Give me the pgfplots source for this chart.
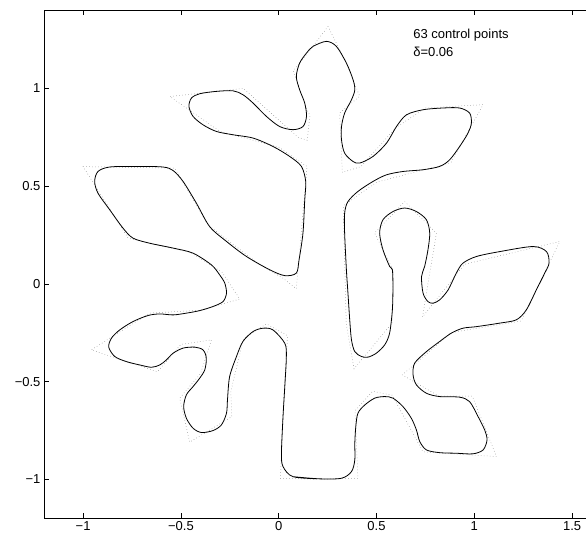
\documentclass[border=0pt]{standalone}
\usepackage{fontspec}
\setmainfont{Liberation Sans}
\usepackage{pgfplots}
\pgfplotsset{compat=1.18}

\begin{document}
\begin{tikzpicture}
\useasboundingbox (-44pt,-20.7pt) rectangle (542pt,518.3pt);
\begin{axis}[
  at={(0,0)},anchor=south west,
  scale only axis,width=542pt,height=508pt,
  xmin=-1.2,xmax=1.571,ymin=-1.2,ymax=1.4,
  axis x line*=box,axis y line*=left,
  tick align=inside,major tick length=5pt,
  xtick={-1,-0.5,0,0.5,1,1.5},xticklabels={−1,−0.5,0,0.5,1,1.5},
  ytick={-1,-0.5,0,0.5,1},yticklabels={−1,−0.5,0,0.5,1},
  tick label style={font=\fontsize{13}{15}\selectfont},
  axis line style={line width=0.6pt},tick style={line width=0.6pt,black},
  clip=false]

% control polygon
\addplot[black!55,line width=0.5pt,dash pattern=on 0.5pt off 2.5pt] coordinates {
(0.21,-1.0) (0.009,-0.995) (0.02,-0.70) (0.04,-0.35) (0.045,-0.265) (-0.063,-0.205)
(-0.18,-0.28) (-0.245,-0.55) (-0.24,-0.68) (-0.455,-0.81) (-0.506,-0.585) (-0.40,-0.46)
(-0.344,-0.287) (-0.50,-0.31) (-0.62,-0.45) (-0.958,-0.338) (-0.66,-0.15) (-0.40,-0.135)
(-0.199,-0.078) (-0.29,0.06) (-0.45,0.16) (-0.77,0.234) (-1.0,0.60) (-0.532,0.592)
(-0.36,0.30) (-0.10,0.10) (0.02,0.03) (0.09,-0.025) (0.115,0.26) (0.145,0.60)
(0.0,0.70) (-0.30,0.78) (-0.557,0.959) (-0.18,1.0) (0.10,0.75) (0.145,0.735)
(0.16,0.86) (0.14,0.90) (0.075,1.09) (0.17,1.21) (0.252,1.317) (0.35,1.12)
(0.414,0.96) (0.312,0.875) (0.325,0.57) (0.42,0.60) (0.60,0.80) (0.75,0.90)
(1.045,0.917) (0.88,0.62) (0.50,0.52) (0.33,0.40) (0.345,-0.2) (0.385,-0.435)
(0.58,-0.20) (0.585,0.07) (0.49,0.26) (0.644,0.421) (0.806,0.26) (0.735,-0.17)
(0.95,0.10) (1.437,0.217) (1.24,-0.19) (0.88,-0.25) (0.632,-0.466) (0.82,-0.575)
(0.99,-0.575) (1.113,-0.884) (0.738,-0.86) (0.58,-0.57) (0.48,-0.55) (0.39,-0.65)
(0.405,-0.995) (0.21,-1.0)};

% spline curve
\addplot[smooth,black,line width=0.8pt] coordinates {
(0.210,-0.998) (0.073,-0.987) (0.022,-0.935) (0.014,-0.867) (0.022,-0.679) (0.031,-0.526)
(0.039,-0.372) (0.031,-0.304) (-0.029,-0.236) (-0.080,-0.227) (-0.131,-0.244) (-0.183,-0.295)
(-0.216,-0.372) (-0.251,-0.475) (-0.262,-0.594) (-0.267,-0.662) (-0.293,-0.722) (-0.336,-0.751)
(-0.395,-0.761) (-0.438,-0.739) (-0.472,-0.688) (-0.486,-0.628) (-0.472,-0.568) (-0.438,-0.526)
(-0.404,-0.483) (-0.378,-0.440) (-0.370,-0.380) (-0.387,-0.338) (-0.429,-0.324) (-0.489,-0.329)
(-0.540,-0.355) (-0.574,-0.389) (-0.608,-0.415) (-0.651,-0.427) (-0.711,-0.415) (-0.779,-0.398)
(-0.838,-0.372) (-0.869,-0.324) (-0.855,-0.278) (-0.813,-0.236) (-0.745,-0.193) (-0.668,-0.162)
(-0.608,-0.154) (-0.540,-0.159) (-0.472,-0.150) (-0.404,-0.137) (-0.336,-0.116) (-0.285,-0.091)
(-0.267,-0.048) (-0.276,0.004) (-0.302,0.046) (-0.344,0.097) (-0.438,0.157) (-0.540,0.183)
(-0.660,0.208) (-0.745,0.234) (-0.796,0.285) (-0.864,0.379) (-0.924,0.464) (-0.941,0.524)
(-0.924,0.575) (-0.864,0.598) (-0.728,0.601) (-0.592,0.598) (-0.540,0.580) (-0.489,0.524)
(-0.421,0.413) (-0.353,0.293) (-0.267,0.217) (-0.165,0.140) (-0.046,0.072) (0.031,0.042)
(0.090,0.055) (0.104,0.123) (0.124,0.260) (0.133,0.430) (0.138,0.524) (0.116,0.601)
(0.056,0.652) (-0.029,0.703) (-0.131,0.746) (-0.234,0.763) (-0.319,0.780) (-0.387,0.814)
(-0.438,0.857) (-0.459,0.908) (-0.446,0.951) (-0.404,0.973) (-0.319,0.985) (-0.234,0.988)
(-0.183,0.968) (-0.131,0.925) (-0.063,0.857) (0.005,0.805) (0.073,0.789) (0.124,0.805)
(0.142,0.857) (0.133,0.925) (0.107,0.993) (0.090,1.061) (0.107,1.130) (0.142,1.181)
(0.175,1.215) (0.244,1.241) (0.295,1.215) (0.346,1.130) (0.380,1.045) (0.389,0.993)
(0.372,0.942) (0.337,0.874) (0.321,0.805) (0.321,0.737) (0.337,0.669) (0.380,0.626)
(0.414,0.618) (0.482,0.652) (0.551,0.720) (0.602,0.805) (0.653,0.865) (0.738,0.891)
(0.840,0.900) (0.925,0.900) (0.976,0.874) (0.985,0.823) (0.968,0.772) (0.925,0.703)
(0.874,0.635) (0.823,0.601) (0.738,0.584) (0.635,0.575) (0.551,0.558) (0.482,0.524)
(0.405,0.473) (0.354,0.421) (0.337,0.362) (0.337,0.260) (0.346,0.072) (0.354,-0.048)
(0.363,-0.184) (0.372,-0.287) (0.389,-0.347) (0.423,-0.372) (0.457,-0.375) (0.499,-0.355)
(0.542,-0.312) (0.567,-0.252) (0.581,-0.133) (0.584,-0.014) (0.581,0.072) (0.567,0.089)
(0.533,0.174) (0.516,0.260) (0.533,0.328) (0.584,0.370) (0.644,0.388) (0.704,0.370)
(0.755,0.328) (0.772,0.260) (0.763,0.174) (0.746,0.089) (0.730,0.037) (0.738,-0.048)
(0.763,-0.091) (0.789,-0.099) (0.823,-0.082) (0.866,-0.031) (0.908,0.055) (0.942,0.106)
(1.011,0.140) (1.130,0.165) (1.300,0.191) (1.369,0.165) (1.382,0.106) (1.360,0.055)
(1.317,-0.031) (1.266,-0.133) (1.215,-0.184) (1.130,-0.201) (1.011,-0.219) (0.942,-0.227)
(0.883,-0.252) (0.823,-0.295) (0.755,-0.347) (0.695,-0.406) (0.687,-0.466) (0.704,-0.517)
(0.755,-0.560) (0.823,-0.577) (0.925,-0.580) (0.976,-0.603) (1.019,-0.679) (1.053,-0.748)
(1.065,-0.799) (1.045,-0.850) (0.993,-0.870) (0.908,-0.867) (0.823,-0.864) (0.755,-0.850)
(0.721,-0.807) (0.704,-0.748) (0.678,-0.688) (0.635,-0.628) (0.584,-0.585) (0.542,-0.577)
(0.491,-0.585) (0.440,-0.620) (0.405,-0.662) (0.394,-0.731) (0.389,-0.816) (0.389,-0.901)
(0.372,-0.961) (0.321,-0.995) (0.210,-0.998) (0.073,-0.987)};

\node[anchor=base west,font=\fontsize{13}{15}\selectfont] at (axis cs:0.67,1.258) {63 control points};
\node[anchor=base west,font=\fontsize{13}{15}\selectfont] at (axis cs:0.67,1.164) {δ=0.06};
\end{axis}
\end{tikzpicture}
\end{document}
